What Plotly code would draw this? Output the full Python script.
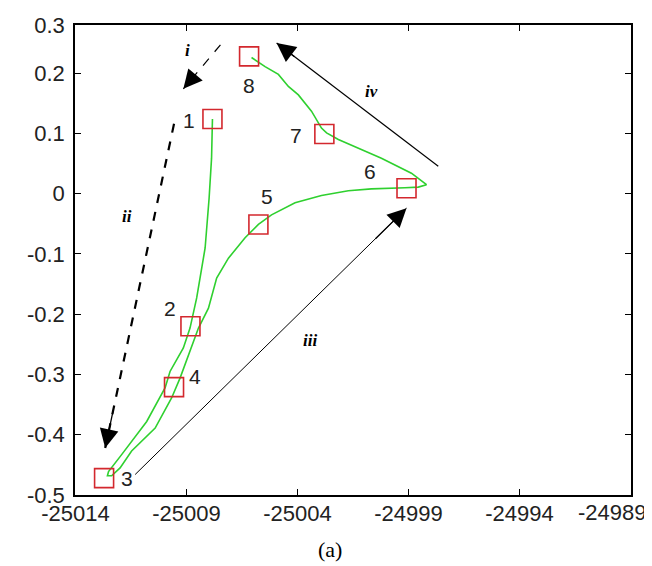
import plotly.graph_objects as go

# ---- data ----
# green trajectory (path 1 -> 2 -> 3, then 3 -> 4 -> 5 -> 6 -> turn -> 7 -> 8)
traj_x = [-25007.83, -25007.87, -25007.98, -25008.16, -25008.54, -25008.84, -25009.14,
          -25009.74, -25009.96, -25010.79, -25011.92, -25012.51, -25012.56,
          -25012.37, -25011.99, -25011.47, -25010.41, -25009.67, -25009.29, -25008.77,
          -25008.46, -25008.01, -25007.64, -25007.11, -25006.66, -25006.36, -25005.76,
          -25005.17, -25004.11, -25002.92, -25001.71, -25000.67, -24999.16, -24998.56,
          -24998.19, -24998.87, -25000.22, -25002.16, -25002.69, -25002.92, -25003.37,
          -25003.96, -25004.41, -25004.86, -25005.46, -25006.07]
traj_y = [0.124, 0.059, -0.007, -0.090, -0.173, -0.223, -0.256,
          -0.295, -0.322, -0.378, -0.433, -0.461, -0.468,
          -0.468, -0.455, -0.427, -0.389, -0.339, -0.306, -0.256,
          -0.223, -0.190, -0.140, -0.107, -0.087, -0.073, -0.051,
          -0.035, -0.015, -0.003, 0.005, 0.008, 0.010, 0.011,
          0.015, 0.034, 0.059, 0.090, 0.101, 0.109, 0.137,
          0.164, 0.178, 0.198, 0.211, 0.226]

# numbered points (red squares)
point_ids = ["1", "2", "3", "4", "5", "6", "7", "8"]
point_x = [-25007.83, -25008.82, -25012.71, -25009.56, -25005.76, -24999.09, -25002.79, -25006.18]
point_y = [0.124, -0.220, -0.472, -0.321, -0.051, 0.009, 0.099, 0.228]

# label positions of the point numbers
label_x = [-25008.87, -25009.74, -25011.69, -25008.61, -25005.36, -25000.74, -25004.05, -25006.18]
label_y = [0.121, -0.190, -0.472, -0.304, -0.004, 0.037, 0.097, 0.179]

# phase arrows (start -> end) and their roman labels
arrow_names = ["i", "ii", "iii", "iv"]
arrow_x0 = [-25007.47, -25009.56, -25011.31, -24997.66]
arrow_y0 = [0.247, 0.116, -0.466, 0.0455]
arrow_x1 = [-25009.14, -25012.66, -24999.09, -25004.94]
arrow_y1 = [0.174, -0.422, -0.024, 0.250]
arrow_dash = ["dash", "dash", "solid", "solid"]
arrow_width = [1.2, 2.2, 1.0, 1.2]
roman_x = [-25008.96, -25011.66, -25003.42, -25000.68]
roman_y = [0.238, -0.037, -0.243, 0.170]

# axes
x_range = [-25014.02, -24988.98]
x_ticks = [-25014, -25009, -25004, -24999, -24994, -24989]
x_tick_text = ["-25014", "-25009", "-25004", "-24999", "-24994", "-24989"]
y_range = [-0.5, 0.28]
y_tick_vals = [-0.5, -0.4, -0.3, -0.2, -0.1, 0.0, 0.1, 0.2, 0.28]
y_tick_text = ["-0.5", "-0.4", "-0.3", "-0.2", "-0.1", "0", "0.1", "0.2", "0.3"]
caption = "(a)"

SANS = "Liberation Sans, Arial, sans-serif"
SERIF = "Liberation Serif, Times New Roman, serif"
TICK_FONT = dict(family=SANS, size=22, color="#222222")

fig = go.Figure()

# arrow shafts
for k in range(len(arrow_names)):
    fig.add_trace(go.Scatter(
        x=[arrow_x0[k], arrow_x1[k]], y=[arrow_y0[k], arrow_y1[k]],
        mode="lines", line=dict(color="black", width=arrow_width[k], dash=arrow_dash[k]),
        hoverinfo="skip", showlegend=False))

# trajectory
fig.add_trace(go.Scatter(x=traj_x, y=traj_y, mode="lines",
                         line=dict(color="#2fd02f", width=1.6),
                         showlegend=False, hoverinfo="skip"))
# points
fig.add_trace(go.Scatter(x=point_x, y=point_y, mode="markers",
                         marker=dict(symbol="square-open", size=19, color="#d3282e",
                                     line=dict(width=1.6, color="#d3282e")),
                         showlegend=False))

annotations = []
# arrow heads (short segment at the end of each shaft)
for k in range(len(arrow_names)):
    hx0 = arrow_x1[k] - 0.12 * (arrow_x1[k] - arrow_x0[k])
    hy0 = arrow_y1[k] - 0.12 * (arrow_y1[k] - arrow_y0[k])
    annotations.append(dict(x=arrow_x1[k], y=arrow_y1[k], ax=hx0, ay=hy0,
                            xref="x", yref="y", axref="x", ayref="y",
                            showarrow=True, arrowhead=2, arrowsize=2.9,
                            arrowwidth=1.3, arrowcolor="black", text=""))
    annotations.append(dict(x=roman_x[k], y=roman_y[k], xref="x", yref="y",
                            text="<b><i>" + arrow_names[k] + "</i></b>", showarrow=False,
                            font=dict(family=SERIF, size=17, color="black")))

for k in range(len(point_ids)):
    annotations.append(dict(x=label_x[k], y=label_y[k], xref="x", yref="y",
                            text=point_ids[k], showarrow=False,
                            font=dict(family=SANS, size=21, color="#222222")))

# the last x label sits a little left of its tick in the reference, so it fits the page
annotations.append(dict(x=x_ticks[-1], y=-0.037, xref="x", yref="paper",
                        text=x_tick_text[-1], showarrow=False, xanchor="center",
                        yanchor="middle", xshift=-18, font=TICK_FONT))

annotations.append(dict(x=0.459, y=-0.115, xref="paper", yref="paper",
                        text=caption, showarrow=False, yanchor="middle",
                        font=dict(family=SERIF, size=22, color="black")))

x_tick_labels = x_tick_text[:-1] + [""]

fig.update_layout(
    width=652, height=566,
    margin=dict(l=67, r=29, t=17, b=79),
    paper_bgcolor="white", plot_bgcolor="white",
    annotations=annotations,
    showlegend=False,
    font=dict(family=SANS, size=22, color="#222222"),
)
fig.update_xaxes(range=x_range, tickvals=x_ticks, ticktext=x_tick_labels,
                 showgrid=False, zeroline=False, showline=True, linecolor="black",
                 linewidth=1.6, mirror="ticks", ticks="inside", ticklen=6,
                 tickcolor="black", automargin=False, ticklabelstandoff=-2,
                 ticklabeloverflow="allow", tickfont=TICK_FONT)
fig.update_yaxes(range=y_range, tickvals=y_tick_vals, ticktext=y_tick_text,
                 showgrid=False, zeroline=False, showline=True, linecolor="black",
                 linewidth=1.6, mirror="ticks", ticks="inside", ticklen=6,
                 tickcolor="black", automargin=False, ticklabelstandoff=4,
                 ticklabeloverflow="allow", tickfont=TICK_FONT)

fig.write_html("out.html")
